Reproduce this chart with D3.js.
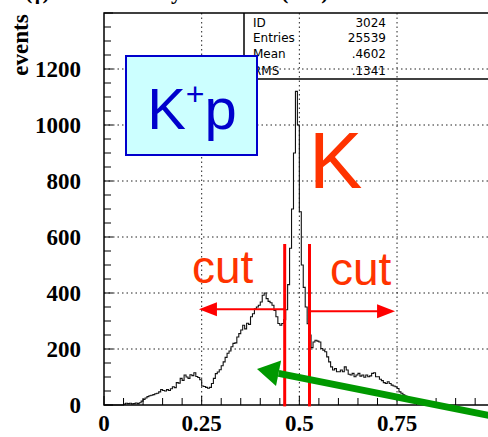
<!DOCTYPE html>
<html><head><meta charset="utf-8">
<script src="https://cdn.jsdelivr.net/npm/d3@7"></script>
<style>body{margin:0;background:#fff}svg{display:block}</style>
</head><body>
<script>
// ---- data ----
const binWidth = 0.005;
const counts = [
  0,0,0,0,0,0,0,0,0,0,
  3,6,5,6,4,5,7,5,8,14,
  20,25,30,33,35,37,40,42,47,55,
  52,50,55,52,58,65,62,80,78,95,
  88,107,100,95,108,105,115,102,98,90,
  68,66,63,60,63,77,95,112,118,126,
  140,154,170,185,193,208,220,222,243,255,
  268,285,272,292,288,315,326,344,350,356,
  368,392,400,380,370,365,356,338,315,291,
  285,291,305,340,430,560,700,900,1120,1000,
  690,500,420,350,290,250,205,225,231,228,
  225,202,196,190,172,154,136,125,130,119,
  119,125,119,136,125,110,107,113,101,107,
  113,103,107,99,107,101,104,113,115,101,
  101,92,87,80,77,83,77,71,68,65,
  59,47,42,36,32,28,22,15,12,8,
  6,5,3,2,1,0,0,0,0,0
];
const xTicks = [0, 0.25, 0.5, 0.75];
const xTickLabels = ["0", "0.25", "0.5", "0.75"];
const yTicks = [0, 200, 400, 600, 800, 1000, 1200];
const statLabels = ["ID", "Entries", "Mean", "RMS"];
const statValues = ["3024", "25539", ".4602", ".1341"];
const cutLow = 0.4625, cutHigh = 0.526;
const cutTop = 575;
const arrowLeftEnd = 0.243, arrowRightEnd = 0.745;
const arrowLeftY = 342, arrowRightY = 335;

// ---- layout ----
const W = 488, H = 437;
const x = d3.scaleLinear().domain([0, 1]).range([104, 494.7]);
const y = d3.scaleLinear().domain([0, 1400]).range([405, 13]);

const svg = d3.select("body").append("svg").attr("width", W).attr("height", H);

// title above the view (only a few glyph bottoms visible, as in the reference)
svg.append("text").attr("x", 25).attr("y", -1)
  .attr("font-family", "Liberation Serif").attr("font-weight", "bold").attr("font-size", 22)
  .attr("xml:space", "preserve")
  .text("(γ)                      y                  (      )");

// grid
const grid = svg.append("g").attr("stroke", "#222").attr("stroke-width", 1).attr("stroke-dasharray", "1.5,3");
xTicks.slice(1).forEach(v => grid.append("line").attr("x1", x(v)).attr("x2", x(v)).attr("y1", y(1400)).attr("y2", y(0)));
yTicks.slice(1).forEach(v => grid.append("line").attr("x1", x(0)).attr("x2", x(1)).attr("y1", y(v)).attr("y2", y(v)));

// histogram
const pts = counts.map((c, i) => [i * binWidth, c]);
pts.push([counts.length * binWidth, counts[counts.length - 1]]);
const line = d3.line().x(d => x(d[0])).y(d => y(d[1])).curve(d3.curveStepAfter);
svg.append("path").attr("d", line(pts)).attr("fill", "none").attr("stroke", "#111").attr("stroke-width", 1.1);

// stats box
svg.append("line").attr("x1", 244).attr("x2", 244).attr("y1", y(1400)).attr("y2", 79).attr("stroke", "#000").attr("stroke-width", 1.5);
svg.append("line").attr("x1", 244).attr("x2", 495).attr("y1", 79).attr("y2", 79).attr("stroke", "#000").attr("stroke-width", 1.5);
const rowsY = [27, 42, 58, 75];
statLabels.forEach((s, i) => {
  svg.append("text").attr("x", 253).attr("y", rowsY[i]).attr("font-family", "DejaVu Sans").attr("font-size", 12).text(s);
  svg.append("text").attr("x", 386).attr("y", rowsY[i]).attr("text-anchor", "end").attr("font-family", "DejaVu Sans").attr("font-size", 12).text(statValues[i]);
});

// K+p box
svg.append("rect").attr("x", 126).attr("y", 56).attr("width", 131).attr("height", 99)
  .attr("fill", "#ccffff").attr("stroke", "#0000cc").attr("stroke-width", 2);
const kp = svg.append("text").attr("x", 192).attr("y", 129).attr("text-anchor", "middle")
  .attr("font-family", "Liberation Sans").attr("font-size", 58).attr("fill", "#0000cc");
kp.append("tspan").text("K");
kp.append("tspan").attr("font-size", 32).attr("dy", -24).text("+");
kp.append("tspan").attr("dy", 24).text("p");

// frame
svg.append("rect").attr("x", x(0)).attr("y", y(1400)).attr("width", x(1) - x(0)).attr("height", y(0) - y(1400))
  .attr("fill", "none").attr("stroke", "#000").attr("stroke-width", 1.5);

// ticks
const tk = svg.append("g").attr("stroke", "#000").attr("stroke-width", 1);
d3.range(0, 1401, 50).forEach(v => {
  const L = v % 200 === 0 ? 9 : 7;
  tk.append("line").attr("x1", x(0)).attr("x2", x(0) + L).attr("y1", y(v)).attr("y2", y(v));
});
d3.range(0, 20).forEach(i => {
  const v = i * 0.05;
  const L = i % 5 === 0 ? 9 : 7;
  tk.append("line").attr("x1", x(v)).attr("x2", x(v)).attr("y1", y(0)).attr("y2", y(0) - L);
});

// tick labels
yTicks.forEach(v => svg.append("text").attr("x", 81).attr("y", y(v) + 8).attr("text-anchor", "end")
  .attr("font-family", "Liberation Serif").attr("font-weight", "bold").attr("font-size", 23).text(v));
xTicks.forEach((v, i) => svg.append("text").attr("x", x(v)).attr("y", 431).attr("text-anchor", "middle")
  .attr("font-family", "Liberation Serif").attr("font-weight", "bold").attr("font-size", 23).text(xTickLabels[i]));
svg.append("text").attr("transform", "translate(28,45) rotate(-90)").attr("text-anchor", "middle")
  .attr("font-family", "Liberation Serif").attr("font-weight", "bold").attr("font-size", 23).text("events");

// cuts
const red = "#ff0000";
[cutLow, cutHigh].forEach(c => svg.append("line").attr("x1", x(c)).attr("x2", x(c)).attr("y1", y(cutTop)).attr("y2", y(-5))
  .attr("stroke", red).attr("stroke-width", 3));
function arrow(x0, x1, yy) {
  const dir = Math.sign(x1 - x0);
  svg.append("line").attr("x1", x0).attr("x2", x1 - dir * 16).attr("y1", yy).attr("y2", yy).attr("stroke", red).attr("stroke-width", 2);
  svg.append("path").attr("d", `M${x1},${yy} L${x1 - dir * 18},${yy - 7} L${x1 - dir * 18},${yy + 7} Z`).attr("fill", red);
}
arrow(x(cutLow), x(arrowLeftEnd), y(arrowLeftY));
arrow(x(cutHigh), x(arrowRightEnd), y(arrowRightY));

const orange = "#ff3300";
svg.append("text").attr("x", 192).attr("y", 283).attr("font-family", "Liberation Sans").attr("font-size", 46).attr("fill", orange).text("cut");
svg.append("text").attr("x", 330).attr("y", 285).attr("font-family", "Liberation Sans").attr("font-size", 46).attr("fill", orange).text("cut");
svg.append("text").attr("x", 309).attr("y", 188).attr("font-family", "Liberation Sans").attr("font-size", 80).attr("fill", orange).text("K");

// green arrow
const g0 = [492, 416], g1 = [257, 369];
const ang = Math.atan2(g1[1] - g0[1], g1[0] - g0[0]);
const hl = 22, hw = 13;
const bx = g1[0] - hl * Math.cos(ang), by = g1[1] - hl * Math.sin(ang);
svg.append("line").attr("x1", g0[0]).attr("y1", g0[1]).attr("x2", bx).attr("y2", by).attr("stroke", "#009900").attr("stroke-width", 7);
svg.append("path").attr("d", `M${g1[0]},${g1[1]} L${bx - hw * Math.sin(ang)},${by + hw * Math.cos(ang)} L${bx + hw * Math.sin(ang)},${by - hw * Math.cos(ang)} Z`).attr("fill", "#009900");
</script>
</body></html>
